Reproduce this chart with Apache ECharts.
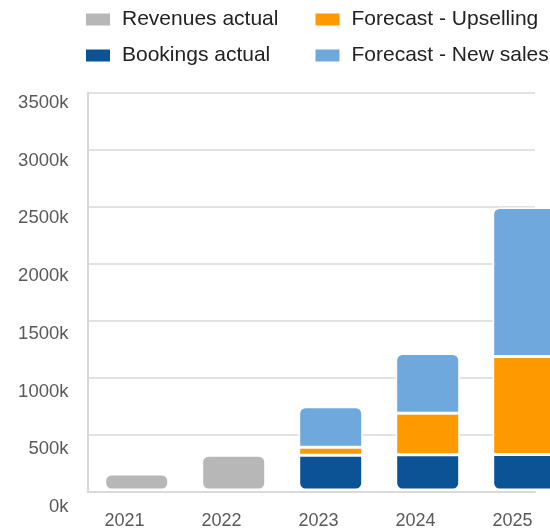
<!DOCTYPE html>
<html>
<head>
<meta charset="utf-8">
<script src="https://cdn.jsdelivr.net/npm/echarts@6/dist/echarts.min.js"></script>
<style>
  html, body { margin: 0; padding: 0; background: #fff; }
  #chart { width: 550px; height: 530px; }
</style>
</head>
<body>
<div id="chart"></div>
<script>
var years = ['2021', '2022', '2023', '2024', '2025'];
// values in thousands
var revenuesActual = [140, 305, '-', '-', '-'];
var bookingsActual = ['-', '-', 305, 309, 312];
var forecastUpselling = ['-', '-', 70, 365, 860];
var forecastNewSales = ['-', '-', 355, 523, 1307];
var yMax = 3500;
var yStep = 500;

var font = 'Arial, "Liberation Sans", sans-serif';
var lineGray = '#d9d9d9';

var myChart = echarts.init(document.getElementById('chart'));

// white border gives the small gaps between stacked parts
function barSeries(name, data, color, radius) {
    return {
        name: name,
        type: 'bar',
        stack: 'total',
        xAxisIndex: 1,
        yAxisIndex: 1,
        barWidth: 64,
        clip: false,
        data: data,
        itemStyle: {
            color: color,
            borderColor: '#fff',
            borderWidth: 1.5,
            borderRadius: radius
        },
        emphasis: { disabled: true }
    };
}

var legendBase = {
    orient: 'vertical',
    top: 9,
    padding: 0,
    itemWidth: 24,
    itemHeight: 12,
    itemGap: 15,
    icon: 'rect',
    itemStyle: { borderWidth: 0 },
    textStyle: { fontSize: 21, color: '#222', fontFamily: font, padding: [0, 0, 0, 7] }
};

myChart.setOption({
    animation: false,
    legend: [
        Object.assign({}, legendBase, { left: 86, data: ['Revenues actual', 'Bookings actual'] }),
        Object.assign({}, legendBase, { left: 315.5, data: ['Forecast - Upselling', 'Forecast - New sales'] })
    ],
    grid: [
        // frame: gridlines and axis lines
        { left: 87.5, right: 15, top: 92.5, bottom: 38.5 },
        // bars, first and last bar centred on the edges
        { left: 136.7, right: 25.3, top: 91, bottom: 40 },
        // y labels
        { left: 87.5, right: 15, top: 102.7, bottom: 23 },
        // x labels
        { left: 124.6, right: 37.4, top: 92.5, bottom: 38.5 }
    ],
    xAxis: [
        {
            gridIndex: 0, type: 'category', data: years,
            axisLine: { show: true, lineStyle: { color: lineGray, width: 2 } },
            axisTick: { show: false }, axisLabel: { show: false }
        },
        { gridIndex: 1, type: 'category', data: years, boundaryGap: false, show: false },
        { gridIndex: 2, type: 'category', data: years, show: false },
        {
            gridIndex: 3, type: 'category', data: years, boundaryGap: false,
            axisLine: { show: false }, axisTick: { show: false },
            axisLabel: { fontSize: 18, color: '#595959', fontFamily: font, margin: 26 }
        }
    ],
    yAxis: [
        {
            gridIndex: 0, type: 'value', min: 0, max: yMax, interval: yStep,
            axisLine: { show: true, lineStyle: { color: lineGray, width: 2 } },
            axisTick: { show: false }, axisLabel: { show: false },
            splitLine: { lineStyle: { color: lineGray, width: 1.5 } }
        },
        { gridIndex: 1, type: 'value', min: 0, max: yMax, show: false },
        {
            gridIndex: 2, type: 'value', min: 0, max: yMax, interval: yStep,
            axisLine: { show: false }, axisTick: { show: false }, splitLine: { show: false },
            axisLabel: {
                fontSize: 18.5, color: '#595959', fontFamily: font, margin: 19,
                formatter: function (v) { return v + 'k'; }
            }
        },
        { gridIndex: 3, type: 'value', min: 0, max: yMax, show: false }
    ],
    series: [
        barSeries('Revenues actual', revenuesActual, '#b7b7b7', 6),
        barSeries('Bookings actual', bookingsActual, '#0b5394', [0, 0, 6, 6]),
        barSeries('Forecast - Upselling', forecastUpselling, '#ff9900', 0),
        barSeries('Forecast - New sales', forecastNewSales, '#6fa8dc', [6, 6, 0, 0])
    ]
});
</script>
</body>
</html>
